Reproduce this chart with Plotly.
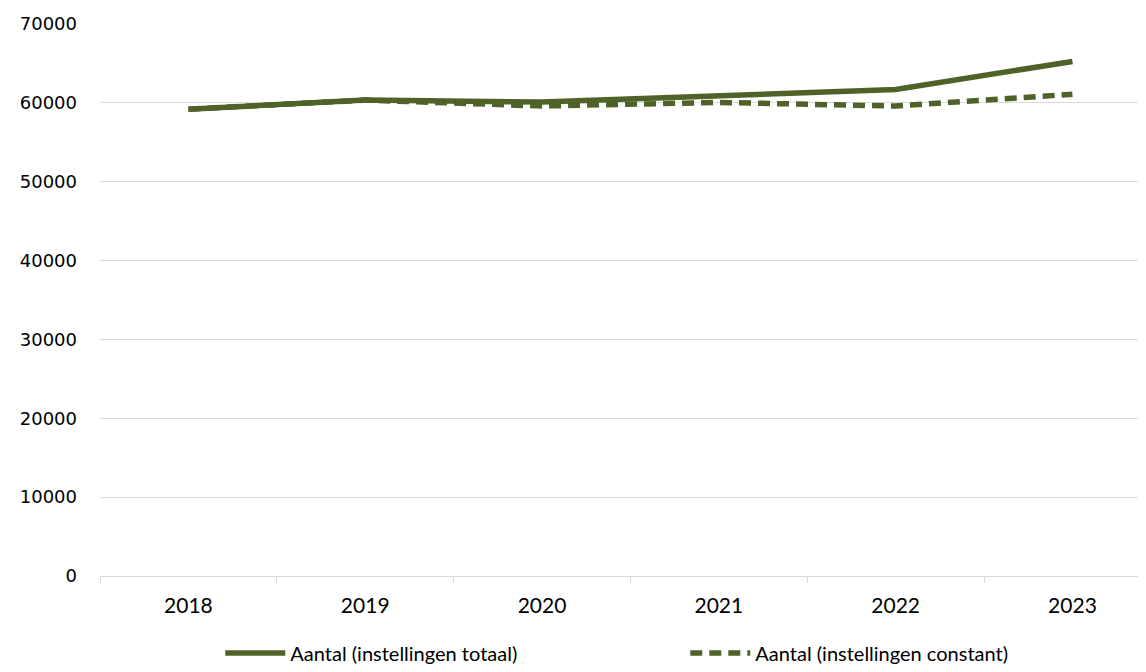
import plotly.graph_objects as go

years = ["2018", "2019", "2020", "2021", "2022", "2023"]
totaal = [59200, 60350, 60100, 60850, 61700, 65250]
constant = [59200, 60350, 59600, 60050, 59600, 61100]

green = "#4F6228"

fig = go.Figure()
fig.add_trace(go.Scatter(
    x=years, y=totaal, mode="lines", name="Aantal (instellingen totaal)",
    line=dict(color=green, width=5.5),
))
fig.add_trace(go.Scatter(
    x=years, y=constant, mode="lines", name="Aantal (instellingen constant)",
    line=dict(color=green, width=5.5, dash="12px,7px"),
))

# the page puts the plot 8px in from the top-left corner, so size and margins are trimmed by 8
fig.update_layout(
    width=1138, height=664,
    margin=dict(l=92, r=0, t=16, b=96, autoexpand=False),
    plot_bgcolor="white", paper_bgcolor="white",
    font=dict(family="Lato, Open Sans, sans-serif", size=20, color="#000000"),
    showlegend=True,
    legend=dict(orientation="h", x=0.115, xanchor="left", y=-0.104, yanchor="top",
                font=dict(size=20), itemwidth=60, entrywidth=390, entrywidthmode="pixels",
                borderwidth=0),
    xaxis=dict(
        type="category", range=[-0.5, 5.416],
        showgrid=False, showline=True, linecolor="#D9D9D9", linewidth=1,
        ticks="outside", tickson="boundaries", ticklen=6, tickcolor="#D9D9D9",
        ticklabelstandoff=11, tickfont=dict(size=21),
    ),
    yaxis=dict(
        range=[0, 70000], dtick=10000, tickformat="d",
        showgrid=True, gridcolor="#D9D9D9", gridwidth=1,
        zeroline=False, showline=False, ticklabelstandoff=22,
        tickfont=dict(family="DejaVu Sans", size=18),
    ),
)

fig.write_html("out.html")
